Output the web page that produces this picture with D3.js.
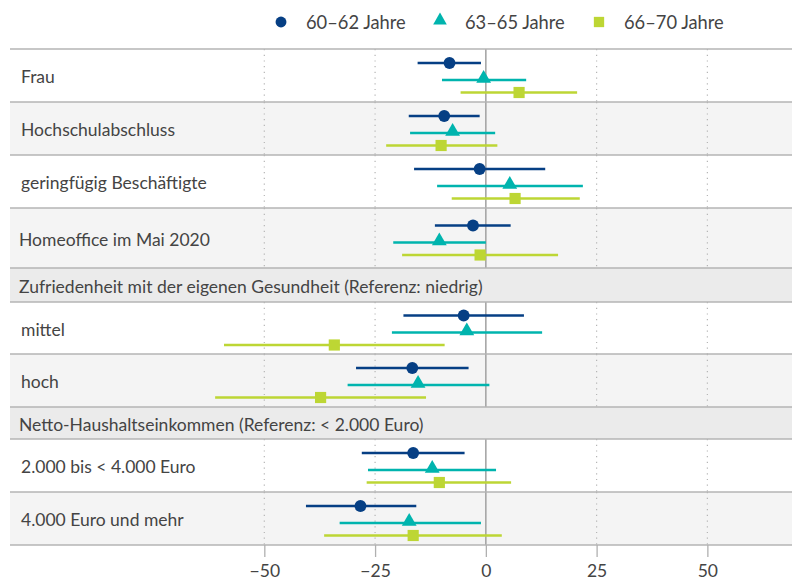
<!DOCTYPE html>
<html>
<head>
<meta charset="utf-8">
<script src="https://cdn.jsdelivr.net/npm/d3@7"></script>
<style>
  body { margin: 0; background: #fff; }
  text { font-family: "Source Sans Pro", Lato, "Noto Sans", sans-serif; fill: #444; }
</style>
</head>
<body>
<div id="chart"></div>
<script>
// rows from top to bottom, headers included
var rowLabels = ["Frau", "Hochschulabschluss", "geringfügig Beschäftigte", "Homeoffice im Mai 2020",
  "Zufriedenheit mit der eigenen Gesundheit (Referenz: niedrig)", "mittel", "hoch",
  "Netto-Haushaltseinkommen (Referenz: < 2.000 Euro)", "2.000 bis < 4.000 Euro", "4.000 Euro und mehr"];
var headerRows = [4, 7];

// categories that carry estimates (same order as the arrays below)
var categories = ["Frau", "Hochschulabschluss", "geringfügig Beschäftigte", "Homeoffice im Mai 2020",
  "mittel", "hoch", "2.000 bis < 4.000 Euro", "4.000 Euro und mehr"];

var seriesNames = ["60–62 Jahre", "63–65 Jahre", "66–70 Jahre"];

var est6062 = [-8.2, -9.4, -1.4, -2.9, -5.0, -16.6, -16.4, -28.3];
var lo6062  = [-15.4, -17.4, -16.2, -11.5, -18.6, -29.3, -28.0, -40.6];
var hi6062  = [-1.1, -1.4, 13.4, 5.6, 8.6, -3.9, -4.8, -15.7];

var est6365 = [-0.5, -7.5, 5.4, -10.5, -4.3, -15.3, -12.1, -17.3];
var lo6365  = [-9.9, -17.1, -11.0, -20.9, -21.2, -31.2, -26.6, -33.0];
var hi6365  = [9.1, 2.1, 21.9, 0.0, 12.7, 0.8, 2.3, -1.1];

var est6670 = [7.5, -10.1, 6.6, -1.3, -34.2, -37.3, -10.5, -16.4];
var lo6670  = [-5.7, -22.5, -7.7, -18.9, -59.1, -61.1, -26.9, -36.5];
var hi6670  = [20.6, 2.6, 21.2, 16.3, -9.3, -13.5, 5.7, 3.6];

var xTicks = [-50, -25, 0, 25, 50];

var colors = ["#063f84", "#00b4ae", "#bdd634"];
var W = 792, H = 580;
var plotLeft = 10, plotTop = 49;

var svg = d3.select("#chart").append("svg")
  .attr("width", W).attr("height", H);

// x scale
var x = d3.scaleLinear().domain([-107.4, 69.1]).range([plotLeft, W]);

// row layout
var rowHeights = [53, 53, 53, 60, 34, 52, 53, 32, 53, 53];
var rows = [];
var yy = plotTop;
rowLabels.forEach(function(lbl, i) {
  rows.push({label: lbl, y0: yy, h: rowHeights[i], header: headerRows.indexOf(i) >= 0});
  yy += rowHeights[i];
});
var plotBottom = yy;

// backgrounds
var dataIdx = 0;
rows.forEach(function(r) {
  var fill;
  if (r.header) fill = "#ebebeb";
  else { fill = (dataIdx % 2 == 0) ? "#ffffff" : "#f4f4f4"; dataIdx++; }
  r.fill = fill;
});
svg.selectAll("rect.bg").data(rows).enter().append("rect")
  .attr("class", "bg")
  .attr("x", plotLeft).attr("y", function(d) { return d.y0; })
  .attr("width", W - plotLeft).attr("height", function(d) { return d.h; })
  .attr("fill", function(d) { return d.fill; });

// grid lines (not through header rows)
var dataRows = rows.filter(function(r) { return !r.header; });
xTicks.forEach(function(t) {
  svg.selectAll(null).data(dataRows).enter().append("line")
    .attr("x1", x(t)).attr("x2", x(t))
    .attr("y1", function(d) { return d.y0; })
    .attr("y2", function(d) { return d.y0 + d.h; })
    .attr("stroke", t == 0 ? "#a0a0a0" : "#b5b5b5")
    .attr("stroke-width", t == 0 ? 1.5 : 1.2)
    .attr("stroke-dasharray", t == 0 ? null : "1.2,4.5");
});

// row separators
svg.selectAll("line.sep").data(rows.map(function(r) { return r.y0; }).concat([plotBottom])).enter()
  .append("line").attr("class", "sep")
  .attr("x1", plotLeft).attr("x2", W)
  .attr("y1", function(d) { return d; }).attr("y2", function(d) { return d; })
  .attr("stroke", "#b4b4b4").attr("stroke-width", 1.5);

// labels
svg.selectAll("text.lbl").data(rows).enter().append("text")
  .attr("class", "lbl")
  .attr("x", function(d) { return (d.header || d.label.indexOf("Homeoffice") == 0) ? 19 : 21; })
  .attr("y", function(d) { return d.y0 + d.h / 2 + 7.5; })
  .attr("font-size", 17.5)
  .text(function(d) { return d.label; });

// x axis
var axis = svg.append("g")
  .attr("transform", "translate(0," + plotBottom + ")")
  .call(d3.axisBottom(x).tickValues(xTicks).tickSize(12).tickPadding(8)
    .tickFormat(function(d) { return d < 0 ? "−" + Math.abs(d) : d; }));
axis.select(".domain").remove();
axis.selectAll("line").attr("stroke", "#b0b0b0").attr("stroke-width", 1.3);
axis.selectAll("text").attr("font-size", 17.5).attr("fill", "#444")
  .style("font-family", '"Source Sans Pro", Lato, "Noto Sans", sans-serif');

// estimates
var series = [
  {name: seriesNames[0], est: est6062, lo: lo6062, hi: hi6062, shape: d3.symbolCircle, size: 110, off: -14},
  {name: seriesNames[1], est: est6365, lo: lo6365, hi: hi6365, shape: d3.symbolTriangle, size: 95, off: 3},
  {name: seriesNames[2], est: est6670, lo: lo6670, hi: hi6670, shape: d3.symbolSquare, size: 125, off: 15.5}
];
function rowCenter(cat) {
  var r = dataRows.filter(function(d) { return d.label == cat; })[0];
  return r.y0 + r.h / 2 + 1.5;
}

series.forEach(function(s, si) {
  var pts = categories.map(function(c, i) {
    return {cat: c, est: s.est[i], lo: s.lo[i], hi: s.hi[i]};
  });
  var g = svg.append("g");
  g.selectAll("line").data(pts).enter().append("line")
    .attr("x1", function(d) { return x(d.lo); })
    .attr("x2", function(d) { return x(d.hi); })
    .attr("y1", function(d) { return rowCenter(d.cat) + s.off; })
    .attr("y2", function(d) { return rowCenter(d.cat) + s.off; })
    .attr("stroke", colors[si]).attr("stroke-width", 2.6);
  g.selectAll("path").data(pts).enter().append("path")
    .attr("d", d3.symbol().type(s.shape).size(s.size))
    .attr("transform", function(d) {
      var dy = s.shape == d3.symbolTriangle ? -1.5 : 0;
      return "translate(" + x(d.est) + "," + (rowCenter(d.cat) + s.off + dy) + ")";
    })
    .attr("fill", colors[si]);
});

// legend
var legX = [281, 440, 599];
var leg = svg.append("g");
series.forEach(function(s, i) {
  leg.append("path")
    .attr("d", d3.symbol().type(s.shape).size(s.size * 0.85))
    .attr("transform", "translate(" + legX[i] + "," + (s.shape == d3.symbolTriangle ? 20.5 : 22) + ")")
    .attr("fill", colors[i]);
  leg.append("text")
    .attr("x", legX[i] + 25).attr("y", 28.5)
    .attr("font-size", 18.3)
    .text(s.name);
});
</script>
</body>
</html>
